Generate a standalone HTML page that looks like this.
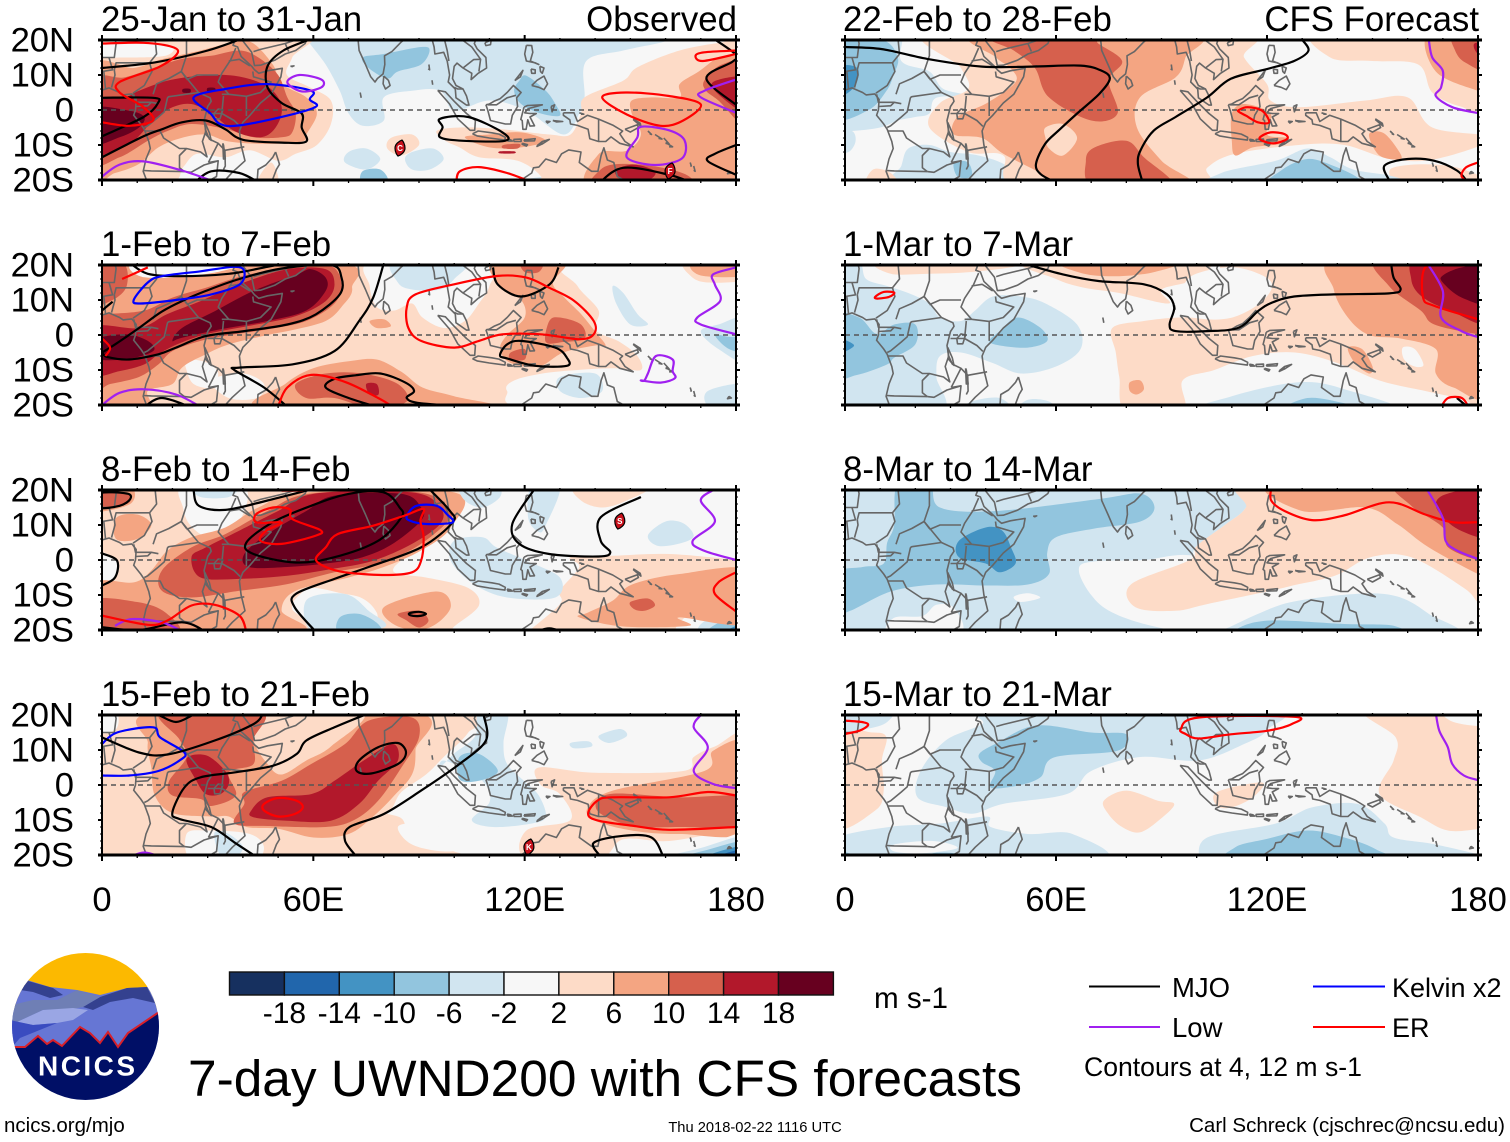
<!DOCTYPE html>
<html lang="en">
<head>
<meta charset="utf-8">
<title>7-day UWND200 with CFS forecasts</title>
<style>
html,body{margin:0;padding:0;background:#fff;width:1510px;height:1142px;overflow:hidden}
svg{display:block}
text{font-family:"Liberation Sans",sans-serif;fill:#000}
</style>
</head>
<body>
<svg id="figure" xmlns="http://www.w3.org/2000/svg" width="1510" height="1142" viewBox="0 0 1510 1142">
  <rect width="1510" height="1142" fill="#fff"/>
  <g id="panels"></g>

  <g>
    <clipPath id="logoClip"><circle cx="85.5" cy="1026.5" r="73.5"/></clipPath>
    <g clip-path="url(#logoClip)">
      <rect x="10" y="950" width="150" height="60" fill="#fcb900"/>
      <polygon points="5,985 27,980 50,987 77,990 100,995 127,988 147,987 165,990 165,1060 5,1060" fill="#6676d4"/>
      <polygon points="20,990 28,981 53,988 63,995 50,998 33,992" fill="#34418f"/>
      <polygon points="83,1007 100,997 127,988 147,987 155,1003 133,998 110,1002 93,1010" fill="#34418f"/>
      <polygon points="5,1020 12,1005 33,1000 57,1000 77,990 100,997 83,1007 73,1009 43,1010 17,1022" fill="#6f7fb5"/>
      <polygon points="17,1022 43,1010 73,1008 88,1010 73,1020 57,1023 33,1025" fill="#9aa6e4"/>
      <polygon points="5,1019 33,1025 57,1023 20,1038 13,1046 5,1050" fill="#3a4cc0"/>
      <polygon points="5,1047 25,1047 38,1036 47,1044 53,1040 62,1046 80,1027 90,1033 100,1043 108,1032 118,1047 128,1033 165,1008 165,1105 5,1105" fill="#000f66"/>
      <polyline points="5,1047 25,1047 38,1036 47,1044 53,1040 62,1046 80,1027 90,1033 100,1043 108,1032 118,1047 128,1033 165,1008" fill="none" stroke="#d8202a" stroke-width="2"/>
    </g>
    <text x="38" y="1075.5" font-size="28" font-weight="bold" textLength="97" lengthAdjust="spacing" style="fill:#fff">NCICS</text>
  </g>

  <g id="colorbar"></g>
  <text x="874" y="1008" font-size="29.6">m s-1</text>
  <text x="188" y="1096" font-size="51.4">7-day UWND200 with CFS forecasts</text>

  <g>
    <line x1="1089" x2="1160" y1="986.5" y2="986.5" stroke="#000" stroke-width="2"/>
    <text x="1172" y="997" font-size="27.5">MJO</text>
    <line x1="1089" x2="1160" y1="1027" y2="1027" stroke="#a020f0" stroke-width="2"/>
    <text x="1172" y="1037" font-size="27.5">Low</text>
    <line x1="1313" x2="1385" y1="986.5" y2="986.5" stroke="#0000ff" stroke-width="2"/>
    <text x="1392" y="997" font-size="27">Kelvin x2</text>
    <line x1="1313" x2="1385" y1="1027" y2="1027" stroke="#ff0000" stroke-width="2"/>
    <text x="1392" y="1037" font-size="27">ER</text>
    <text x="1084" y="1076" font-size="26.6">Contours at 4, 12 m s-1</text>
  </g>

  <text x="4" y="1132" font-size="20.5">ncics.org/mjo</text>
  <text x="755" y="1132" font-size="14.7" text-anchor="middle">Thu 2018-02-22 1116 UTC</text>
  <text x="1505" y="1132" font-size="20.5" text-anchor="end">Carl Schreck (cjschrec@ncsu.edu)</text>
</svg>

<script>
/* ---------- chart data (lon / lat / m s-1) ---------- */
const latTicks = [20,10,0,-10,-20];
const latTickLabels = ["20N","10N","0","10S","20S"];
const lonTicks = [0,60,120,180];
const lonTickLabels = ["0","60E","120E","180"];
const panelTitles = ["25-Jan to 31-Jan","1-Feb to 7-Feb","8-Feb to 14-Feb","15-Feb to 21-Feb","22-Feb to 28-Feb","1-Mar to 7-Mar","8-Mar to 14-Mar","15-Mar to 21-Mar"];
const levelBins = [-20,-16,-12,-8,-4,0,4,8,12,16,20];
const levelColors = ["#16305f","#2166ac","#4393c3","#92c5de","#d1e5f0","#f7f7f7","#fddbc7","#f4a582","#d6604d","#b2182b","#67001f"];
const colorbarTicks = [-18,-14,-10,-6,-2,2,6,10,14,18];
const lineColors = {mjo:"#000000",kelvin:"#0000ff",low:"#a020f0",er:"#ff0000"};
const stormPanel = [0,0,2,3];
const stormLon = [84.6,161.3,147,121.2];
const stormLat = [-10.9,-17.4,11.1,-17.7];
const stormNames = ["C","F","S","K"];

/* shaded regions: [level, [lon,lat,lon,lat,...]] in paint order */
const shade1 = [
[-4,[58,20.5,63.5,13,67.5,5.5,70,-1,74,-4.5,80,-3,80,3.6,88,5.5,96,5.5,100,-0.2,110,2.7,120.5,-0.2,131,-7,135.5,-1,137,3.6,137.5,14,148,17,161,20,161,23,58,23]],
[-8,[74,15,80,16,90.6,18,93,17,90.6,13,84,11,81,9,75.7,12]],
[-8,[118.5,8.4,120.5,9.8,126,5.5,128.7,1.7,130,-1.6,124.6,-1,119,1.7,117,5.5]],
[-4,[70,-12,75,-11,79,-14,75,-17,69,-15]],
[-4,[88,-12,94,-11,97,-14,93,-17,88,-17,86,-14]],
[-8,[74,-17.5,79,-17,81,-20.5,74,-21]],
[-4,[122,-19.5,130,-19,137,-21,122,-21]],
[4,[-3,23,57,23,54,15,52.5,10,59,6.5,65,2.7,65,-4,61,-10,55,-12.5,50,-14.5,42,-11.5,35,-13.5,27,-12.5,23,-16.4,19,-21,-3,-23]],
[4,[44,-21,48,-15,50,-21]],
[4,[82,-8,88,-7,90,-10,85,-13,81,-11]],
[4,[137,3.6,148,8.4,152,12.2,164,17,176,19.3,184,20,184,-23,125,-23,124.7,-19,118,-14.5,107,-13.5,101.5,-10.7,97.5,-8.8,95,-6,101.5,-5,112.4,-5.4,127,-7,133,-7,136,-1]],
[0,[-2,19,12,19.5,20,18,18,15.5,8,15,-2,15.5]],
[8,[-3,12,9,12,17,14.5,28,17,38,19.5,43,19,48.5,13,51,7.5,58,3.6,61,-1,58,-7,56.7,-9,47,-9.7,36,-9,29.5,-7,22.5,-8,16,-10.7,10.5,-15.4,3.7,-18,-3,-19]],
[8,[150.4,2.7,156,3.6,164,3.6,164,7.4,169.4,11,175,15,180,15.5,184,15,184,-23,140,-23,141,-12.6,149,-11.6,153,-7,150.4,-1]],
[8,[103,-7.8,110,-7,119,-6.4,126,-8.8,119,-10.7,110,-10.7]],
[12,[-3,8,6.4,9.3,14.5,12,22.7,14.6,31,15.5,39,17,44.4,15,50,10,52.6,3.6,55,-1,54,-6.4,51,-7.8,43,-7.8,35,-5.4,25.4,-4,18.6,-6,13,-8.8,5,-13.5,-3,-14.5]],
[12,[171,8.4,176,13,184,13,184,-5,175,2.7,171.5,5.5]],
[12,[141.6,-17,147.7,-15.4,158.6,-16.4,166.7,-19,167,-23,140,-23]],
[12,[114,-10,118.5,-9.7,118,-11,114,-11]],
[16,[-3,2,6.4,3.6,10.5,5.5,18.6,8.4,28,9.8,37.6,9.8,45.8,7.4,50,3.6,51,-1,48.5,-6,44.4,-7.8,37.6,-6,31,-1,25.4,1.7,20,0.8,14.5,-3,9,-8.8,2.3,-12,-3,-12.6]],
[16,[173.5,8,184,9,184,-1,176,3.6]],
[16,[145.7,-17.3,151,-15.6,157,-17.5,155,-20,148,-20]],
[16,[113,-11.8,117,-11.8,117,-12.4,113,-12.4]],
[20,[-3,0.3,7.7,-0.2,12,-2,10.5,-5,5,-7.8,-3,-9.7]],
[20,[23,6,25,6,25,5,23,5]],
[20,[30,6.3,32,6.3,32,5.3,30,5.3]]
];
const shade2 = [
[4,[-5,25,185,25,185,-25,-5,-25]],
[0,[77,21,76,14,78,8,83,7,88,9,91,5,97,2,103,4,107,9,110,14,110,21]],
[-4,[83,21,84,15,88,13,96,13,100,16,103,21]],
[0,[133,21,135,14,141,7,140,1.5,147,-2,152,-6,153,-10,146,-9.5,135,-10,125,-11,117,-13,115,-16,122,-21,184,-21,184,21]],
[4,[166,21,167,17,172,15,184,16,184,21]],
[8,[168,21,170,17,184,17,184,21]],
[-4,[145,14,148,12,152,6,155,3,150,3,146,9]],
[-4,[170,1,175,3,184,5,184,-8,175,-4]],
[-8,[174,0,178,-0.5,184,-1,184,-5,178,-4]],
[-4,[130,-12,140,-11,142,-16,136,-18,130,-16]],
[-4,[172,-16,184,-14,184,-21,173,-21]],
[0,[24,-7,30,-8,33,-11,31,-15,26,-14,24,-10]],
[0,[31,-13,40,-11,46,-14,44,-18,36,-18]],
[8,[66,21,71,13.5,68,8,63.5,4,55,1.6,47,0,36,-2.7,29.5,-5.5,22.7,-9.3,20,-14,13,-16,13,-21,-3,-23,-3,23]],
[8,[46,-21,52,-14,60,-9.5,70,-7.5,78,-7,85,-10.5,91,-15,100,-17.5,110,-21]],
[8,[111,21,113,14,119,10,120,5,115,0,113,-4,116,-8,124,-9,131,-5,140,-3,143,-3,140,1,136,6,131,11,128,15,131,21]],
[8,[76,4,80,4.5,82,2.5,78,2]],
[0,[10,21,40,21,30,17.5,12,16.5]],
[12,[119,21,125,21,124,18,120,18]],
[12,[127,4,130,5,136,3,137,-1,131,-2,126,-2]],
[12,[116,-5,120,-4,120,-7,116,-7]],
[12,[55,-14,63.5,-11,74,-11,84,-14,86.5,-19,77,-21,66,-18,58,-18]],
[16,[75,-14,78,-14,78.5,-17,76,-17]],
[12,[-3,20.5,6,20.5,7,14,3,10,-3,9]],
[12,[-3,6,1,6,12,7,20,10.7,29.5,13.5,41.7,17.3,58,19.7,65.5,19.5,68,14.4,66,9,58,4,47,1.6,37.6,0.2,28,-1.7,20,-4.6,16,-8.4,10.5,-12,2.3,-14,-3,-15]],
[16,[-3,2,10.5,2,18.6,6,28,9.7,39,14.5,52.6,18.8,63.5,18.8,66,14.5,63.5,9.7,55,5.4,41.7,2.6,29.5,0.2,21.3,-2.7,16,-5.5,12,-8.4,5,-10.3,-3,-11]],
[20,[20,-1.7,22.7,2,32,6.8,43,12.6,55.3,17.3,59.4,18.8,63.5,16.4,63.5,12.6,58,7,47,4,33.5,1.6,22.7,-0.8]],
[20,[-3,-1.7,6.4,0.2,13,-1.7,14.5,-4.6,6.4,-7,-3,-6.5]]
];
const shade3 = [
[4,[-3,23,97,23,95,14,96,10,93,5,88,2,83,-2,84,-4,92,-5,104,-8,107,-13,100,-19,97,-22,80,-22,78,-15,74,-11,68,-9.5,60,-8,56,-10,54,-14,58,-22,-3,-23]],
[0,[-2,2,4,0,4,-5,-2,-8]],
[0,[23,21,23,15,25,10,30,6.5,35,8,40,13,40,21]],
[-4,[26,21,28,18,36,18,38,21]],
[8,[-3,21,8,21,8,16,-3,14]],
[12,[-3,20,7,19,7,16,-3,15]],
[8,[4,12,10,13,14,10,10,6,4,6]],
[8,[-3,-7,9,-6.4,14,-3,18.6,2.7,25.4,6.5,35,9.3,44.4,15,58,19.3,100,19.3,99,9.3,90.6,2.7,80,-2,70,-5,55,-8.8,51,-14.5,55,-21,-3,-23]],
[12,[17,-3,25.4,3.6,35,7.4,47,14,59.4,19,90,19.3,99,14,97.5,10.3,89,3.6,78.4,-1,66,-3.5,52.6,-6.9,39,-8.8,25.4,-10.7,17,-8.8]],
[12,[-3,-11.5,10,-12,18,-15,21,-21,-3,-21]],
[16,[25.4,0.8,29.5,3.6,39,8.4,50,14,60.7,19,88,19.3,96,15,96,10.3,88,4.6,77,-0.2,65,-2.6,52.6,-4.5,39,-5.4,28,-5]],
[20,[40.4,1.7,47,7.4,58,14,66,18.4,85,18.9,90.6,15,90.6,11.3,82.5,4.6,74,0.8,63.5,-1,52.6,-2,41.7,-2]],
[4,[135,21,136,17,142,15,149,17,155,21]],
[4,[120.5,-21,130,-12.6,130,-8.8,135.5,-2,133,0.8,145,1.2,161,1.7,180,0,184,-1,184,-23,120,-23]],
[0,[164,-21,166,-16,172,-14.5,184,-13.5,184,-21]],
[-4,[170,-21,172,-17,184,-15,184,-21]],
[-8,[172,-21,176,-17.5,184,-16,184,-21]],
[-12,[176,-21,184,-17.5,184,-21]],
[-16,[178,-21,184,-18.5,184,-21]],
[8,[145,-11.6,150.5,-7,164,-4,184,-3,184,-18,164,-16.4,166.7,-18.8,148,-19,135.5,-16.4,138,-15]],
[12,[150,-12,155,-11,157,-13,154,-14.5,151,-14]],
[8,[80,-13.5,95,-9,99,-13.5,93,-19.3,84,-19]],
[12,[84,-15.4,90,-14.5,92.7,-17.3,90,-19.3,86.5,-17.3]],
[-4,[100,5.5,108,6.5,112,3.6,120.5,-0.2,130,-5,128.7,-10.7,115,-10.7,105.6,-6.9,99,-0.2]],
[-4,[102,21,103,17,108,15,113,18,112,21]],
[-4,[122,21,130,21,126,10,124,8,121,12]],
[-4,[155,7,160,11,165,10.5,168,7,165,5,158,4]],
[-4,[58,-11.5,69,-9.7,75.7,-14.5,80,-19.3,60.7,-21]],
[-8,[67.5,-16.4,73,-15.4,78.4,-18.3,78.4,-21,67.5,-21]]
];
const shade4 = [
[4,[-3,23,107,23,104,15,97,8,92,3,85,-2,82,-7,77,-10,74,-14,72,-22,-3,-23]],
[4,[72,-9,84,-9,88,-14,100,-19,110,-22,72,-23]],
[0,[84,-12,90,-11,100,-13,106,-17,98,-19,88,-17]],
[0,[24,-14,30,-13,42,-14,46,-18,42,-22,26,-22]],
[-4,[32,-13.5,36,-14,40,-18,36,-22,33,-19]],
[0,[-2,21,4,21,4,16,-2,15]],
[8,[16,21,13,12,14,5,15,-3,20,-8,31,-9,36,-9,41,-12,50,-12.5,60,-15,70,-14,77,-9,83,-3,88,3,89,10,88,21]],
[4,[44,21,43,13,47,6,51,3,58,7,65,11,74,21]],
[12,[17,21,22,13,24,8,19,1,20,-3,28,-4,31,-6,38,-3,36,3.6,43,6,43,13,45,21]],
[16,[24,7.5,29.5,8.5,35,4,36,0.3,33.6,-2.6,29.5,-2.6,26.8,1.2]],
[12,[40.4,-2,51,1.2,59.4,6,69,11.7,75.7,18.4,88,19.3,90,13.6,85,5,78.4,-4.5,71.6,-10,63.5,-12,47,-11.7,37.6,-11,40.4,-5.4]],
[16,[42.4,-7.3,47,-3.5,59.4,-2.6,66,1.2,74.3,7,82.5,11.7,84,7,78.4,1.2,73,-5.4,65,-10.2,52.6,-10.2,43,-9.2]],
[4,[124,5,140,3.5,165,4,168,8,174,11,184,14,184,-15,180,-13,161,-16,148,-15.5,141,-21,120.5,-21,120.5,-13,133,-10,130,-2.6,124.6,0]],
[8,[184,11.7,173.5,9.8,171,4,145,-1.6,138,-6.3,139.6,-10,150.4,-13,164,-14,184,-12.6]],
[12,[144,-2.6,164,-3.5,184,-3.5,184,-11.6,164,-12,150.4,-11.7,140.6,-7.3]],
[0,[150,-22,170,-17.5,184,-13.5,184,-23]],
[-4,[157,-22,170,-18,184,-14.5,184,-23]],
[-8,[162,-22,172,-18.5,184,-16,184,-23]],
[-12,[168,-22,184,-17,184,-23]],
[-16,[171,-22,184,-18,184,-23]],
[-20,[177,-22,184,-19.5,184,-22]],
[-4,[107,21,115,21,114,12,115,6,120,1,124,-3,126,-9,122,-11,111,-12,105,-10,110,-5,109,0,104,4,97,7,96,5,100,9,106,14]],
[-8,[101.5,8,107,8.9,112.4,4,107,1.2,101.5,1.6]],
[-4,[141,14,147,16,149,14,144,12]],
[-4,[133,12,138,12.5,139,11,134,10.5]]
];
const shade5 = [
[-4,[-3,23,15,23,16,14,24,11,28,6,36,4,26,3.5,24,-1,20,-2,15,-3,10,-5,2,-6,-3,-6]],
[-4,[-3,-6,2,-6,3,-9,1,-12,-3,-12]],
[-4,[18,-11,24,-10,30,-12,38,-13,46,-16,50,-22,14,-22,16,-16]],
[-8,[-3,19,10.5,20,15,15,13.8,10,11.8,5.5,6.7,0,-3,-1.6]],
[-12,[-3,12,3.5,12,2.6,6.5,-3,3.6]],
[-8,[31,-15,35,-15,36,-19,32,-19]],
[4,[6,-22,8,-17,13,-18,15,-22]],
[4,[26,23,33,12,35,6,27,2,24,-5,35,-12,45,-13,50,-22,100,-22,103,-16.5,111,-12.5,129,-10,142,-10,155,-14,168,-14,184,-8,167,-5,160,3.6,148,2.7,129,0.8,121,2.7,120,7.4,113.5,15,111,23]],
[4,[135,23,138,15,150,14,163,13,167,5,175,1,184,0,184,23]],
[4,[155,-17,165,-15.5,176,-17,184,-22,160,-22]],
[8,[38,22,43,15,47,12,48.5,8,40.4,2,32,-2,31,-7,39,-8,45,-12.5,55.6,-18,62,-22,98,-22,90,-14.5,83,-5,83.9,3.6,94,9.3,96.8,15,98,22]],
[4,[57,-5,62,-4,66,-8,62,-13,58,-11,57,-8]],
[12,[41.4,21,48,17,54,12,58,3.6,70,-3,77.5,-1,75,8.4,78.8,14,72,19,70,21]],
[12,[71,-10.7,80,-8.8,85,-13.5,93,-22,71,-22,68.5,-14.5]],
[8,[110,-1,113.5,1.7,121,-1,120,-7,126,-8,124,-9.7,116,-10.7,111,-13,110,-8.8]],
[8,[149,-7,153,-6.5,157,-11,158,-14,152,-13]],
[8,[166,22,168,11,180,5.5,184,5,184,22]],
[12,[173,22,184,22,184,11,176.5,13.5,173.5,17]],
[16,[179,19,184,19,184,15,180,16]],
[-4,[106,-22,107,-18,122.5,-14.5,131.5,-11,138,-13.5,144.5,-17,156,-19,160,-22]],
[-8,[121,-22,124,-17.3,131.5,-14,139,-16,145.7,-19.3,147,-22]]
];
const shade6 = [
[-4,[-3,21,4,21,6,16,12,14,18,12,24,9,27,5,33,4,37,7,42,11,50,11,57,9,66,3,67,-4,60,-9,50,-11,42,-8,33,-5,27,-6,26,-12,27,-22,-3,-22]],
[-4,[33,-22,36,-19,44,-18,47,-22]],
[-4,[49,-22,52,-18.5,58,-19,60,-22]],
[-8,[-3,5,4,5,9,0.3,14,3,20,3,20,-2.7,14,-6.5,12,-8.4,3.5,-11.4,-3,-11.4]],
[-12,[-3,-0.8,2.6,-3,-3,-5.5]],
[-8,[41,-1.7,44,1.1,49,5,55.5,2.1,57.5,-1.7,52,-3.6,44,-3]],
[4,[11,21,13,17.5,24,17.5,36,18,48,19.5,50,21]],
[4,[52,21,60,16,68,13.5,78,12,92,9,90,13,100,16,100,21]],
[8,[62,21,68,17.5,78,16.8,88,18,94,21]],
[4,[76,2,85,4,95,5,108,5,111,10,112,22,184,22,184,-19,175,-18,165,-16,152,-13,140,-8,128,-5,116,-6,105,-10,96,-13,96,-22,80,-22,78,-12,77,-5]],
[0,[95.5,12.6,99.4,17.3,111,19.3,121,15.4,118.7,9.7,109.7,4.9,99.4,4.9,94,7.8]],
[0,[158.6,-3.6,162,-4,164.5,-8.5,162,-9,159,-7]],
[8,[140,22,139,13,143,5,149,0,158,-1,168,-4,168,-11,173,-15,184,-16,184,22]],
[12,[152,22,154.7,14,163.7,7,167.6,3,180,0.2,184,0,184,22]],
[16,[163,22,161,16,164,11,172,7,184,3.5,184,22]],
[20,[170,17,175.4,19.3,184,20,184,9,175.4,10.7,170,15]],
[8,[81,-13.5,84,-13,85,-15.5,83,-17,81,-16]],
[8,[143,-3.6,147,-4,150,-9,149,-11,145,-8]],
[-4,[102,-22,110,-17.5,129,-13.5,142,-15.5,156,-22]],
[-8,[125,-22,131.5,-18,142,-19.5,150,-22]]
];
const shade7 = [
[-4,[-3,23,116,23,114,15,108,10,100,4,97,0,81,-7,83,-14,95,-15,108,-12,100.6,-22,-3,-23]],
[-4,[103,-22,116,-16,129,-11.6,153.4,-9.7,166,-15.4,171,-22]],
[0,[66.5,-3,70,-0.5,85,0,100,1,120,-8,130,-9,116,-16,103,-21,88,-19,76,-15,70,-10]],
[4,[81.3,-7,98,0,100,4,108,10,114,15,116,23,184,23,184,-13,180,-12,176,-8,161,0.8,149.5,0.8,140.5,-4,134,-5.9,129,-6.9,121,-8.8,103,-12.6,94,-14.5,82.6,-13.5]],
[8,[122.5,22,130,14,148,15,157,10.3,166,3.6,180,-4,184,-5,184,22]],
[12,[157,22,161,15.5,170,9.3,171.5,3.6,180,-0.2,184,-1,184,22]],
[16,[168,15.5,171.5,19,184,20,184,6,180,6.5,172.7,9.8]],
[-8,[15,22,24,22,27,15,43,14,72,17.4,84,19,88,15,84,11,71,9,60,6.5,57.5,2,58,-4,52,-7,40,-7.3,26,-7,13,-9,1.5,-14.5,-3,-15,-3,-4,5,-2,11,-1,12,5,14,10]],
[-8,[-3,19,2,20,5,22,-3,22]],
[-12,[32.4,5.5,40,9.3,44.7,8.4,47.2,3.6,48.5,-1,44,-3.5,40,-1,32.4,0.8]],
[0,[14,-16.5,22,-16,26,-12.8,31,-13.7,32.5,-21,13,-21]],
[0,[48,-10.5,52,-9.5,55.5,-10.8,50,-12]],
[-8,[112,-19.4,121,-17.3,142,-18.3,156,-18.8,156.6,-22,112,-22]]
];
const shade8 = [
[4,[-3,14,7.7,15,11.8,13.6,10.5,7,11,-1.6,8.6,-7.3,-3,-11.6]],
[-4,[-3,22,13,22,12,18,6,16,-3,15.5]],
[-4,[20.6,-3.5,21.5,4,28.6,12.7,39,17.4,43,22,119.6,22,120,15.7,113.5,11.7,100.6,7,84,8,70,4,63.3,-2.5,45,-5.4,36.3,-8.2,28.6,-6.3]],
[-8,[38.2,8.9,42.7,11.7,54.3,17,70,15,80,14.5,77.5,9.8,59.5,7.9,55.6,2.2,49,-0.2,41.4,-0.7,42.7,4,39,6.5]],
[4,[148,22,156.6,13.6,156,7,152,-2.6,163.7,-9.2,171.4,-13,180,-12.6,184,-12,184,22]],
[0,[170,22,173,18,184,17,184,22]],
[4,[73.6,-4.5,80,-1.6,89,-4.5,93.6,-5.4,90.3,-9.2,84,-13.5,78.8,-12,74.9,-8.3]],
[4,[105.8,-2,118.6,0.7,116,-3.5,110,-6.4,105.8,-6]],
[-4,[-3,-15.4,12.5,-12,27,-11,40.4,-9,41.4,-12,52,-14,64.7,-14,71,-22,-3,-22]],
[0,[14,-17,25,-16,32,-18,22,-19.5,14,-19]],
[-8,[-3,-18.5,5,-21,-3,-21]],
[-8,[25,-19.5,31,-19.5,31,-21,25,-21]],
[-4,[100.6,-22,103,-15,122.5,-11,132.8,-6.4,145.7,-5.4,153.4,-11,156,-15,168,-17,184,-21,184,-23,100,-23]],
[-8,[111,-17.8,120,-15.4,131.5,-13,142,-15,150.8,-18.3,153.4,-22,111,-22]]
];

/* contour lines: [type, closed(1/0), [lon,lat,...]] */
const lines1 = [
["mjo",0,[0,12,15,13.6,30,17,40,20.5]],
["mjo",0,[60,20.5,51.5,17,47,12.5,47,6.5,51,2,56.7,-1,56.7,-5,58,-9,51,-9.3,40,-8.5,35,-5.5,29.5,-3,22.7,-3.5,17,-5.5,11.8,-7.5,0,-13.5]],
["mjo",0,[0,3.5,14.5,3.5,15.9,2,11.8,-2,0,-7.5]],
["mjo",1,[96,-2.5,104,-2,113.7,-6.4,114.4,-8.8,102.7,-8.8,96,-7.8,96.7,-4.9]],
["mjo",0,[26,-21,31,-17.5,39,-18,45,-21]],
["mjo",0,[141,-21,148,-16.5,161,-18.5,168,-21]],
["mjo",0,[173.5,20.5,180,15.8,179,13.8,171.6,9,180,1.5]],
["mjo",0,[180,-10,174,-12.5,172,-14.6,180,-18.5]],
["kelvin",1,[26,3.6,35,6,47,7.4,59.4,5.5,59,3,60.8,1,52.6,-1.6,39,-4.4,33.5,-4,30.8,-1]],
["low",1,[52.6,7.9,56,10,62.3,8.7,62.3,6.5,56.7,5.3]],
["low",0,[0,-19,5,-15.6,11.8,-14.7,22.7,-17.3,32,-20.5]],
["low",0,[180,8.7,171,5.5,170,3.6,180,-0.8]],
["low",1,[153,-4.8,161,-5.8,165.4,-8.7,164.7,-13.8,157,-15.7,149,-13.5,152,-7.8]],
["er",0,[0,19,11.8,19.2,20,18,21.3,16,16,12.2,5,8,5,5,11.8,0.8,14.5,-3,7.7,-4.5,0,-3.5]],
["er",1,[142,3.6,148.7,5,161,4,170,1.6,165,-3,158.6,-4.5,149,-1.3]],
["er",0,[180,17,171,16.5,168.5,15.5,170.6,14,180,16]],
["er",0,[100.6,-20.5,101.6,-17.5,107,-16.3,115,-18,123,-21]]
];
const lines2 = [
["mjo",0,[8,20.5,13,17.5,22,16.8,36,17.5,47,19.5,52,20.5]],
["mjo",0,[0,-5,3.7,-2.7,10.5,2,17,6.7,22.7,9.7,29.5,12.6,39,16,51,19,65,20,68,16.4,67.5,11.6,60.7,5.9,52.6,3,40.4,1.1,29.5,-0.3,21,-3.6,16,-5.5,7.7,-7,1.6,-6.3,0,-5]],
["mjo",0,[80,20.5,77,10.7,73,4,66,-4.6,54,-8.4,39,-9.3,37.6,-10,46,-15,52.6,-20.5]],
["mjo",0,[78,-20.5,70,-18,63.5,-15,66,-12.5,72,-11.5,79,-11,86,-13.5,88.6,-16,86.5,-18,90.6,-19.5,107,-20.5]],
["mjo",0,[111,19.3,112.4,14.4,119,11,127,14.4,129.6,19.3]],
["mjo",1,[115,-2.7,119,-1.7,128.7,-3.6,132,-6.5,132,-8.8,123,-8.8,115,-6.7,113,-5.8]],
["mjo",0,[0,7,3,9.5]],
["mjo",0,[12,-20.5,17,-18,25,-20.5]],
["kelvin",1,[9,10,13,15,17,16.8,28,18.2,37.6,19.5,40.4,18.2,39,14.4,31,11.6,21,10,11,9]],
["low",0,[180,19.3,173.5,17.3,174,14.4,175.5,9.7,169,5,170,3,180,0.2]],
["low",1,[154,-13,155,-11,157.3,-6,162,-7,162,-10.3,162.7,-12.3,158.6,-13.6,153.2,-13]],
["low",0,[0,-20,5,-16.5,12,-15.5,21,-17,28,-20.5]],
["er",0,[5.7,16,13,19.3]],
["er",1,[86.5,7.8,89,11.6,100,14.5,112.4,16.9,120.5,16.4,127,13.5,134,9.8,139.6,4,139.6,0.2,135.5,-1.2,124.6,0.2,113.7,0.2,107,-1.7,100,-3.6,90.6,-1.7,87,2]],
["er",0,[50,-20.5,52.6,-15,59.4,-11.4,69,-13.4,78.4,-18,82.5,-20.5]],
["er",0,[0,-1,2.3,-3.6,1,-6]]
];
const lines3 = [
["mjo",1,[41,5,48.5,10.8,59.4,15.5,70,18.9,80,19.3,84.5,15,85,12.2,78.4,5.5,66,0.8,55,-0.7,43,1.7]],
["mjo",0,[26,19.8,27.5,15.5,35,14.3,47,17,60.7,20.5]],
["mjo",0,[92.7,20.5,98.8,14,99.5,10.7,90.6,3.6,75.7,-2,66,-5.4,55,-9.7,54.7,-13.5,60.7,-20.5]],
["mjo",0,[0,1.9,4.3,-0.2,3.7,-5,0,-7.3]],
["mjo",1,[-1,19,7,19,8,17.4,5,15.5,-1,15]],
["mjo",0,[122.6,20,116.5,10.3,118.5,4.6,127,1.7,141,1,144.3,2.2,141.6,5.5,141.6,12.2,153,18]],
["mjo",0,[0,-19.2,10.5,-20,22.7,-17.8,29.5,-20.5]],
["mjo",1,[87.3,-15.2,90,-14.8,92,-15.4,90,-16,87.6,-15.8]],
["mjo",0,[123,-20.5,127,-19.5,131,-20.5]],
["kelvin",1,[86.6,12.7,89.3,15.5,95,15.5,98,13,99.5,10.7,92,10.3,87.3,11.3]],
["low",0,[173.5,20,170,17,174,11,167.7,5.5,170.8,2.7,180,0]],
["low",0,[3.7,-18.8,8.4,-16.9,17,-17.8,23,-20.5]],
["er",1,[43.8,13.1,48.5,15,53.3,14.5,54,11.7,61.9,8.6,60.8,7,51,4.6,45,5.5,46.5,8.3,51,10.7,44,10.7]],
["er",1,[91.3,14.6,90.4,11.2,91.3,6.5,90.6,-0.2,88,-3.5,80,-4.3,69,-3.5,63.5,-2,60.7,0.3,63.5,3.6,66.9,7.4,77,9.8,86,12.7]],
["er",0,[0,-15.9,13,-18.5,18.6,-17.3,25.4,-13,32,-12.8,39,-15.9,41,-20.5]],
["er",0,[180,-3.5,175,-6.4,174,-9.7,180,-14.7]],
["er",0,[51,19.8,57,19.8]]
];
const lines4 = [
["kelvin",0,[0,11.7,4.3,15,14.5,16.5,16.5,13.6,23.4,9.3,22,7,16,4,7.7,2.7,0,2.7]],
["mjo",0,[0,13.6,10.5,9.3,18.6,8.7,32,12.7,43,17.4,45.5,20]],
["mjo",0,[16.5,19.8,21,18,25.4,19.8]],
["mjo",0,[75.7,20.5,66,16.5,58,12.7,55.3,8.9,48.5,5.5,37.6,3.6,28,2.2,23.4,-0.7,20,-7.8,22,-9.7,31,-12,37.6,-16.4,43.8,-20.5]],
["mjo",1,[72.3,4,73,7,78.4,10.8,84,12,86.3,9.3,84,6,76.4,3.3]],
["mjo",0,[108.4,19.8,109,12.7,101.5,6,90.6,-1.6,80,-8.3,70.3,-12,69,-15.9,72.3,-20.5]],
["mjo",0,[141.6,-20.5,139.6,-16.5,148,-14.5,156,-15,159.4,-20.5]],
["low",0,[170,20,168,16.5,172,10.7,168,4,173.5,0.3,180,-0.9]],
["low",0,[8,-20.5,12,-19.3,16.5,-20.5]],
["er",1,[46,-5.4,50,-3.7,55.3,-4.5,57,-6.4,54.7,-8.3,50,-9,46,-7.3]],
["er",0,[180,-3,172,-2,161,-3.5,145,-3.5,140.6,-4.5,138,-8.3,141,-10.2,150.4,-11.6,161,-12.8,180,-12]]
];
const lines5 = [
["mjo",0,[0,18,10.5,17.4,23.4,14.6,39,12.4,53,12.4,67,12.7,73,11.2,75.3,8.9,72.3,4.6,66,-1,60.7,-5.9,56.9,-9.7,54.3,-15.4,55.6,-18.3,59.5,-20.5]],
["mjo",0,[129.6,20.5,131.8,17,127.7,14,120,11.7,109.7,8.9,103,3.6,94,-2,87.8,-5.9,84,-11.6,83.3,-15.4,84.6,-20.5]],
["mjo",0,[154.7,-20,153.4,-15.9,160,-14,167.6,-14.5,174,-17.3,177,-20.5]],
["low",0,[166,20,167,15,170,11.2,169.5,6.5,168,4,172.7,0.8,180,-0.9]],
["er",1,[112,0,114.5,0.8,118.6,-0.2,120.6,-3.5,117.4,-3.5,114,-1.6,112,-0.5]],
["er",1,[118,-7.8,121,-6.4,125,-6.9,125.7,-8.3,122,-9.5,118.7,-8.8]],
["er",0,[180,-15,176.6,-16.4,175.3,-18.8,177,-20.5]]
];
const lines6 = [
["mjo",0,[50.5,20.5,62,17.3,72.3,15.4,85,14.5,91.6,11.6,93.6,7.8,92.3,3,94,1.1,103,1.1,112,2.1,117.4,6.8,121.3,9.2,127.7,11,139,11.6,154.7,11.9,158,13,156,16.4,155.3,20.5]],
["mjo",0,[174,-18,177,-20.5]],
["er",1,[8.6,10.9,11,12.3,14,12.1,12.5,10.9,9.2,10.4]],
["er",0,[172,20,165,19.3,164.4,10.7,167.6,8.3,180,4.5]],
["er",0,[169.5,-20.5,171.5,-18,175.4,-18,177.3,-20.5]],
["low",0,[165.6,20.5,170,12.6,169.5,5,175.3,1.1,180,-0.6]]
];
const lines7 = [
["er",0,[121.2,20.5,121.2,17,125,14,132.8,11.4,141.8,12.7,154.7,16.5,165,13,172.7,10.8,180,10.8]],
["low",0,[165.6,20,170,12,170.8,5.5,174,2.7,180,0.3]]
];
const lines8 = [
["low",0,[168,20.5,169,15.5,171.4,10.8,172.7,6,176,2.7,180,1.4]],
["er",1,[95.5,16,100.6,19.3,127.7,19.5,127,17.4,120,15.5,109.7,14.5,100.6,13.3,96.8,14.6]],
["er",0,[0,18.4,5.4,17.9,6.5,17,4,15.5,0,14.6]]
];
const panelShades = [shade1,shade2,shade3,shade4,shade5,shade6,shade7,shade8];
const panelLines = [lines1,lines2,lines3,lines4,lines5,lines6,lines7,lines8];

/* coastlines and borders in lon/lat */
const coastLines = [
[0,5.7,2,6.3,5,5,6,4.3,8.5,4.6,9.7,3,9.5,0,9,-1.5,11,-4,12,-5.5,13.3,-9,13.7,-11,12.5,-14,11.7,-17.5,13,-21],
[38,20.5,37.2,18.5,38.5,18,39.5,15.3,42.5,12.5,43.3,11.5,44.5,10.5,47,11.2,51.2,11.9,50.8,9.5,48,4.5,45,2,42,-1.5,40,-3.5,39,-6,39.5,-10,40.6,-14.5,37,-17.8,35,-20,35,-22],
[49.3,-12,50.4,-15.5,49.5,-17,48,-21,44,-21,44.3,-17,46.5,-15.7,48.5,-13.5,49.3,-12],
[39,21,42.5,16.5,43.3,12.7,45,12.8,49,14.2,52,16,55,17,57.7,19,58.5,21],
[69.5,21,72.7,20,73,17,74.8,13,76.3,9.5,77.5,8,78.2,9,79.8,10.3,80.3,13,80.2,15.5,82.3,16.7,85,19.5,87,21],
[80,9.7,81.3,8.5,81.8,7,80.5,6,79.8,7.5,80,9.7],
[93.5,21,94.3,18,94.5,16,97,16.5,98,14,98.7,10,98.3,8,100.3,6,100.5,3.5,101.5,2.8,103.5,1.4,104.2,1.4,103.5,4,102.5,6,100.5,7,99.5,9,100,12.5,100.8,13.4,102.5,12,105,10.5,104.8,8.7,106.7,10.4,109.2,12,109,15,106.5,17.5,105.7,19,106.5,21],
[95.3,5.6,97.5,5.2,100,2.5,103.5,-1,106,-3,105.8,-5.8,104.5,-5.8,101,-2.5,98.7,1.7,95.3,5.6],
[105.2,-6.8,106.8,-6,110.7,-6.5,112.7,-6.9,114.5,-7.8,114.4,-8.6,110,-8,106.5,-7.4,105.2,-6.8],
[115,-8.3,116,-8.5,116.5,-8.9,115.3,-8.9,115,-8.3],
[116.8,-8.4,119,-8.3,119,-9,117,-9,116.8,-8.4],
[119.8,-8.5,123,-8.2,122.8,-8.8,120,-8.9,119.8,-8.5],
[119.3,-9.5,120.8,-9.9,120.5,-10.3,119.3,-9.8,119.3,-9.5],
[123.5,-10.2,125,-9,127,-8.4,125,-9.7,123.5,-10.4,123.5,-10.2],
[109,1.5,110,1.7,111.3,2.5,113,3.2,115,5,116.8,7,119,5,117.7,3.5,118,1,116.5,-1.5,116,-4,114.5,-4,110.3,-3,109.5,0,109,1.5],
[119.8,0.8,120.8,1.3,125,1.5,121,0.4,120,-0.8,121.5,-1,123.3,-1,121.5,-2,122.8,-4.5,121.5,-4.6,120.9,-2.8,120.4,-5.5,119.5,-5.5,119.3,-3,118.9,-2.7,119.8,0.8],
[120.5,18.5,122,18.4,122.3,16.5,121.6,14,124,13,123,13.5,120.5,14,120,16,120.5,18.5],
[122,7,123.5,8.5,125.5,9.7,126.5,7.5,125.5,5.8,124,6.5,122,7],
[117.2,8.4,119.5,11.3,118.8,9.5,117.2,8.4],
[121.8,11.7,123,11.5,123,10.5,122,10.5,121.8,11.7],
[124.3,12.5,125.5,12,125,10.5,124.5,11,124.3,12.5],
[131,-0.8,134,-0.8,135,-3.3,137.8,-1.5,141,-2.6,145,-4.3,147.8,-6,147,-6.8,148.5,-9,150.8,-10.5,147,-9.5,144.5,-7.7,143,-9,141,-9,138.5,-8.2,138,-5.5,135,-4.4,133,-4,132.8,-2.8,131,-1.5,131,-0.8],
[148.5,-5.5,152,-4.2,152.3,-5,150,-6.3,148.5,-5.5],
[150.8,-2.7,153,-4.6,152.8,-3.8,150.8,-2.5],
[127.5,1,128.5,1.5,127.8,-0.5,127.5,1],
[128,-3,130.8,-3.3,129,-3.4,128,-3],
[126,-3.2,127.2,-3.3,126.5,-3.7,126,-3.2],
[135.5,-0.8,136.8,-1.2,136,-1.2],
[155,-6,156,-7,155.5,-6.8],[157,-7,159,-8.3,158,-8.1],[159.5,-8,161,-9.7,160,-9.5],[160,-9.3,162,-10.5,161,-10.5],
[167,-15,167.3,-16,167,-16],[168,-16,168.4,-17.5,168,-17.2],
[113.5,-22,114,-21.8,117,-20.6,119,-20,122,-18,122.5,-16.5,124,-16.3,126,-14,129,-15,130.5,-12.5,132.5,-11.4,136,-12,135.5,-15,139,-17.5,140.8,-17.5,141.7,-13,142.5,-10.8,143.5,-14.3,145.3,-15,146.3,-19,148.5,-20.2,149,-22],
[108.7,19.2,110.5,20,110.3,18.7,109,18.4,108.7,19.2],
[92.8,13,93,11.5,92.6,11.8],[93.7,8.5,93.9,7.2],
[73.3,5,73.6,3.5],[53.5,12.5,54.5,12.6,53.8,12.3],
[178,-17.5,178.7,-18,177.6,-18.2,178,-17.5],
/* African and other land borders */
[24,21,24,15.5,22.5,11,24,9],[15,21,15.5,16,13.5,13.5],[3.5,21,4,19,3.5,15,1,15,-1,15],[3.5,11.5,4,13.5,13.5,13.5,14.2,11,12,7,8.8,4.8],[2.7,6.4,3.7,10,3.5,11.5],
[14.5,4.5,15.5,7.5,19,9,22.5,11,27.4,5,19,3.8,18.5,3.5],[12,-5,13,-4.5,16,-2,17.7,-0.5,18.6,3.5],
[12.2,-6,16.5,-6,17.5,-8,22,-11,24,-11,28,-12,29.8,-13.4,28.5,-9,29.5,-6,29,-3,30,1,31,2.5,30.7,3.5,27.4,5],
[11.7,-17.3,14,-17.4,23.4,-17.6],[24,-11,22,-13,22,-16.5,23.4,-17.6],[23.4,-17.6,25.3,-17.8,29,-15.7,33,-14.5,30.2,-15],[30.2,-15,33,-9.5,30.5,-8.3,29.5,-6],[29,-21,32.5,-19,33,-14.5],
[30,-1,34,-1,37.5,-3,39.2,-4.7],[40.4,-10.5,34.9,-11.5,33,-9.5],[34.9,-11.5,35,-16,34.5,-17],[34,-1,34.5,4],[34,4.5,36,4.5,41,3.9,41,-1.7],
[36,4.5,33,8,34,10.5,36.5,14.3,38,17.7],[41,3.9,45,5,48,8,43,9.5,42.8,11],[24,8.7,27,10,33,10],
[31.8,-1,33,0.3,34.3,0,33.5,-2.5,32,-2.5,31.8,-1],[29.2,-3.5,29.5,-7,31,-8.7,30.5,-6.5,29.2,-3.5],[34.3,-9.5,34.5,-14,35,-14,34.5,-10,34.3,-9.5],
[43,16.7,45,17.3,52,19,55,20],[52,19,53,16.7],[55,20,56,24],[36,14,39,14.5,42,12.6],[0.5,11,1,6.1],[0,11,3,11.5,2,15],[9,4.5,9.5,2.2,14,2.2,16,1.8],[9.5,1,13,1.2,14,2.2],
[97,21,98,17,98.5,14],[101,21,105,18,107.5,14.5,107,11],[102.5,12,105.5,14.4,107.5,14.5],[100,6.5,101,6,102.5,6],[109.5,1.5,112,1.5,115,3.5,117.5,4.2],[141,-2.6,141,-9],[124.9,-9.2,125,-9.9]
];

/* ---------- drawing ---------- */
const NS = 'http://www.w3.org/2000/svg';
const panelLeft = [102,845];
const panelWidth = [634,633];
const panelTop = [40,265,490,715];
const panelH = 140;

function node(parent,tag,attrs){
  const el = document.createElementNS(NS,tag);
  for(const k in attrs){el.setAttribute(k,attrs[k]);}
  parent.appendChild(el);
  return el;
}
function smoothPath(flat,closed,xf,yf){
  const pts=[];
  for(let i=0;i<flat.length;i+=2){pts.push([xf(flat[i]),yf(flat[i+1])]);}
  const n=pts.length;
  const at=i=>closed?pts[(i+n)%n]:pts[Math.max(0,Math.min(n-1,i))];
  let d='M'+pts[0][0].toFixed(1)+' '+pts[0][1].toFixed(1);
  const segs=closed?n:n-1;
  for(let i=0;i<segs;i++){
    const p0=at(i-1),p1=at(i),p2=at(i+1),p3=at(i+2);
    d+='C'+(p1[0]+(p2[0]-p0[0])/6).toFixed(1)+' '+(p1[1]+(p2[1]-p0[1])/6).toFixed(1)+' '+(p2[0]-(p3[0]-p1[0])/6).toFixed(1)+' '+(p2[1]-(p3[1]-p1[1])/6).toFixed(1)+' '+p2[0].toFixed(1)+' '+p2[1].toFixed(1);
  }
  return d+(closed?'Z':'');
}
function straightPath(flat,xf,yf){
  let d='';
  for(let i=0;i<flat.length;i+=2){d+=(i?'L':'M')+xf(flat[i]).toFixed(1)+' '+yf(flat[i+1]).toFixed(1);}
  return d;
}
function colorFor(level){return levelColors[levelBins.indexOf(level)];}

const svg=document.getElementById('figure');
const root=document.getElementById('panels');
const defs=node(svg,'defs',{});

panelTitles.forEach(function(title,p){
  const col=p<4?0:1;
  const row=p%4;
  const L=panelLeft[col],T=panelTop[row],panelW=panelWidth[col];
  const x=lon=>L+lon/180*panelW;
  const y=lat=>T+(20-lat)/40*panelH;
  const g=node(root,'g',{});
  
  

  const clip=node(defs,'clipPath',{id:'clip'+p});
  node(clip,'rect',{x:L,y:T,width:panelW,height:panelH});

  const map=node(g,'g',{'clip-path':'url(#clip'+p+')'});
  const base=node(map,'rect',{x:L,y:T,width:panelW,height:panelH,fill:colorFor(0)});
  
  

  panelShades[p].forEach(function(s){
    const el=node(map,'path',{d:smoothPath(s[1],true,x,y),fill:colorFor(s[0])});
    
    
  });

  coastLines.forEach(function(c){
    const el=node(map,'path',{d:straightPath(c,x,y),fill:'none',stroke:'#666','stroke-width':1.6,'stroke-linejoin':'round'});
    
    
  });

  const eq=node(map,'line',{x1:x(0),x2:x(180),y1:y(0),y2:y(0),stroke:'#555','stroke-width':1.6,'stroke-dasharray':'5 4'});
  
  

  panelLines[p].forEach(function(c){
    const el=node(map,'path',{d:smoothPath(c[2],!!c[1],x,y),fill:'none',stroke:lineColors[c[0]],'stroke-width':2.2});
    
    
  });

  stormPanel.forEach(function(sp,i){
    if(sp!==p){return;}
    const gs=node(g,'g',{transform:'translate('+x(stormLon[i]).toFixed(1)+' '+y(stormLat[i]).toFixed(1)+')'});
    
    
    node(gs,'path',{d:'M2 -8C-1 -7 -5 -4 -5 0C-5 4 -3 7 -2 8C1 7 5 4 5 0C5 -4 3 -7 2 -8Z',fill:'#c8101a',stroke:'#000','stroke-width':1.2});
    const label=node(gs,'text',{x:0,y:3,'font-size':8,'font-weight':'bold','text-anchor':'middle',style:'fill:#fff'});
    
    
    label.textContent=stormNames[i];
  });

  /* ticks */
  for(let lon=0;lon<=180;lon+=10){
    const major=lonTicks.indexOf(lon)>=0;
    const t=node(g,'path',{d:'M'+x(lon)+' '+(T-(major?5:2))+'V'+T+'M'+x(lon)+' '+(T+panelH)+'V'+(T+panelH+(major?6:3)),stroke:'#000','stroke-width':major?2:1.3,fill:'none'});
    
    
  }
  for(let lat=-20;lat<=20;lat+=2){
    const major=lat%10===0;
    const t=node(g,'path',{d:'M'+(L-(major?4:2))+' '+y(lat)+'H'+L+'M'+(L+panelW)+' '+y(lat)+'H'+(L+panelW+(major?4:2)),stroke:'#000','stroke-width':major?2:1,fill:'none'});
    
    
  }
  const frame=node(g,'path',{d:'M'+(L-4)+' '+T+'H'+(L+panelW+4)+'M'+(L-4)+' '+(T+panelH)+'H'+(L+panelW+4),stroke:'#000','stroke-width':3,fill:'none'});
  
  
  const sides=node(g,'path',{d:'M'+L+' '+T+'V'+(T+panelH)+'M'+(L+panelW)+' '+T+'V'+(T+panelH),stroke:'#000','stroke-width':2,fill:'none'});
  
  

  /* title */
  const tt=node(g,'text',{x:L-(col?2:1),y:T-9,'font-size':34.8});
  
  
  tt.textContent=title;

  if(col===0){
    latTicks.forEach(function(lat,i){
      const lab=node(g,'text',{x:74,y:y(lat)+11.7,'font-size':34.6,'text-anchor':'end'});
      
      
      lab.textContent=latTickLabels[i];
    });
  }
  if(row===3){
    lonTicks.forEach(function(lon,i){
      const lab=node(g,'text',{x:x(lon),y:911,'font-size':34.6,'text-anchor':'middle'});
      
      
      lab.textContent=lonTickLabels[i];
    });
  }
  if(p===0||p===4){
    const hd=node(g,'text',{x:L+panelW+1,y:T-9,'font-size':34.8,'text-anchor':'end'});
    
    
    hd.textContent=p===0?'Observed':'CFS Forecast';
  }
});

/* colour bar */
const cb=document.getElementById('colorbar');
const cbLeft=229.5,cbTop=972,cbHeight=23,cbStep=54.9;
const cbX=v=>cbLeft+cbStep*((v+22)/4);
levelBins.forEach(function(v){
  const r=node(cb,'rect',{x:cbX(v-2),y:cbTop,width:cbStep,height:cbHeight,fill:colorFor(v),stroke:'#111','stroke-width':1.4});
  
  
});
colorbarTicks.forEach(function(v){
  const t=node(cb,'text',{x:cbX(v),y:1023,'font-size':30,'text-anchor':'middle'});
  
  
  t.textContent=String(v);
});
</script>
</body>
</html>
